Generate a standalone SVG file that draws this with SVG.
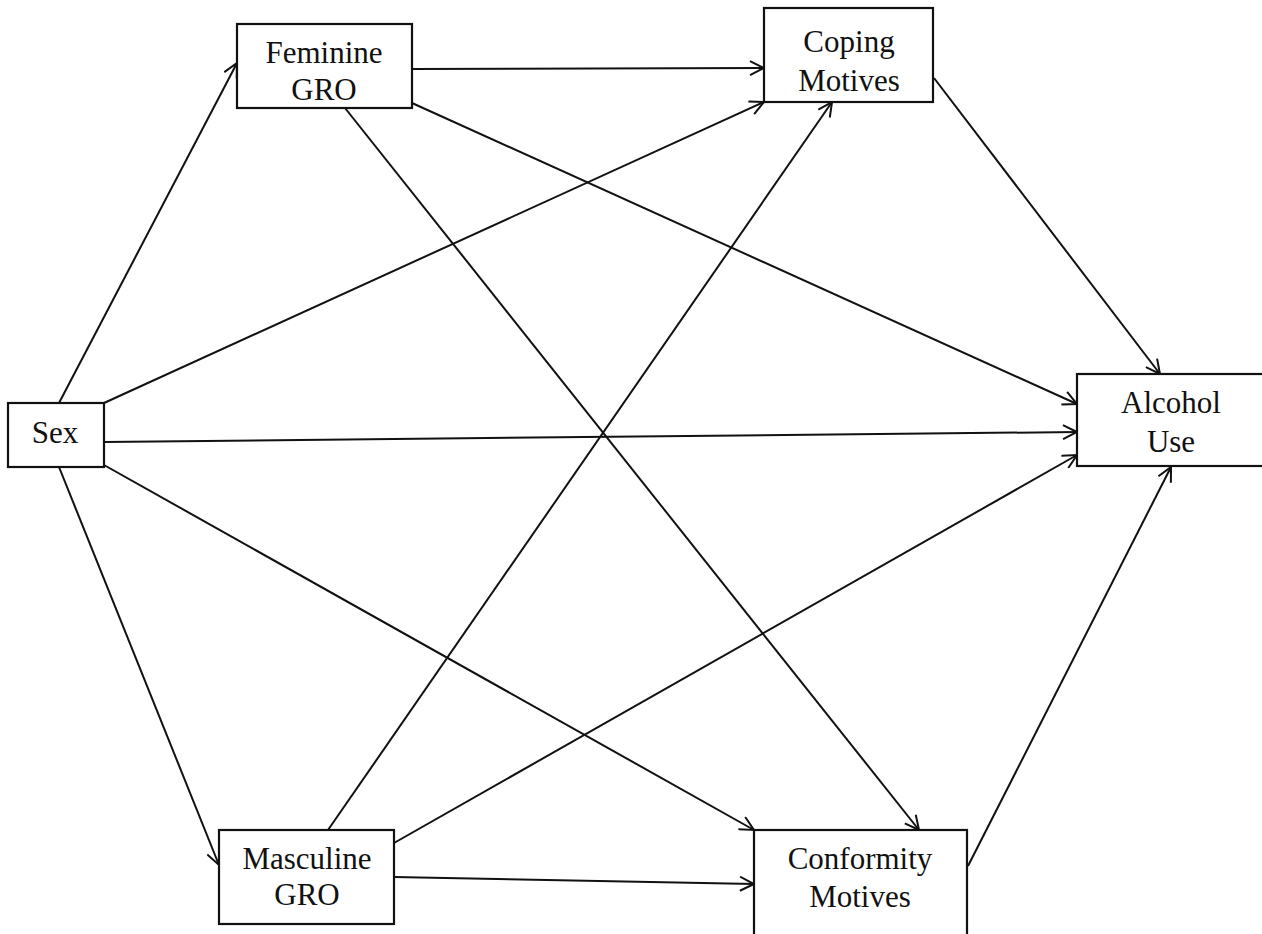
<svg xmlns="http://www.w3.org/2000/svg" width="1262" height="934" viewBox="0 0 1262 934">
  <style>
    .box { fill: #fff; stroke: #111; stroke-width: 2.2; }
    .lbl { font-family: "Liberation Serif", "Times New Roman", serif; font-size: 31px; fill: #111; text-anchor: middle; }
    .edge { fill: none; stroke: #111; stroke-width: 2; marker-end: url(#arr); }
  </style>
  <defs>
    <marker id="arr" markerWidth="18" markerHeight="16" refX="16" refY="8" orient="auto" markerUnits="userSpaceOnUse">
      <path d="M2,1 L16,8 L2,15" fill="none" stroke="#111" stroke-width="2"/>
    </marker>
  </defs>
  <rect width="1262" height="934" fill="#fff"/>

  <!-- paths of the model -->
  <g id="connectors">
    <line class="edge" x1="59" y1="403" x2="237" y2="63"/>
    <line class="edge" x1="104" y1="403" x2="764" y2="102"/>
    <line class="edge" x1="104" y1="442" x2="1077" y2="432"/>
    <line class="edge" x1="104" y1="465" x2="754" y2="830"/>
    <line class="edge" x1="59" y1="467" x2="219" y2="865"/>
    <line class="edge" x1="412" y1="69" x2="764" y2="68"/>
    <line class="edge" x1="412" y1="103" x2="1077" y2="404"/>
    <line class="edge" x1="345" y1="108" x2="919" y2="830"/>
    <line class="edge" x1="934" y1="78" x2="1160" y2="374"/>
    <line class="edge" x1="328" y1="830" x2="832" y2="102"/>
    <line class="edge" x1="394" y1="843" x2="1077" y2="455"/>
    <line class="edge" x1="394" y1="877" x2="754" y2="884"/>
    <line class="edge" x1="968" y1="866" x2="1171" y2="467"/>
  </g>

  <g id="sex">
    <rect class="box" x="8" y="403" width="96" height="64"/>
    <text class="lbl" x="55" y="443">Sex</text>
  </g>
  <g id="feminine-gro">
    <rect class="box" x="237" y="24" width="175" height="84"/>
    <text class="lbl" x="324" y="63">Feminine</text>
    <text class="lbl" x="324" y="100">GRO</text>
  </g>
  <g id="coping-motives">
    <rect class="box" x="764" y="8" width="169" height="94"/>
    <text class="lbl" x="849" y="52">Coping</text>
    <text class="lbl" x="849" y="91">Motives</text>
  </g>
  <g id="alcohol-use">
    <rect class="box" x="1077" y="374" width="190" height="92"/>
    <text class="lbl" x="1171" y="413">Alcohol</text>
    <text class="lbl" x="1171" y="452">Use</text>
  </g>
  <g id="masculine-gro">
    <rect class="box" x="219" y="830" width="175" height="94"/>
    <text class="lbl" x="307" y="869">Masculine</text>
    <text class="lbl" x="307" y="905">GRO</text>
  </g>
  <g id="conformity-motives">
    <rect class="box" x="754" y="830" width="213" height="112"/>
    <text class="lbl" x="860" y="869">Conformity</text>
    <text class="lbl" x="860" y="907">Motives</text>
  </g>
</svg>
